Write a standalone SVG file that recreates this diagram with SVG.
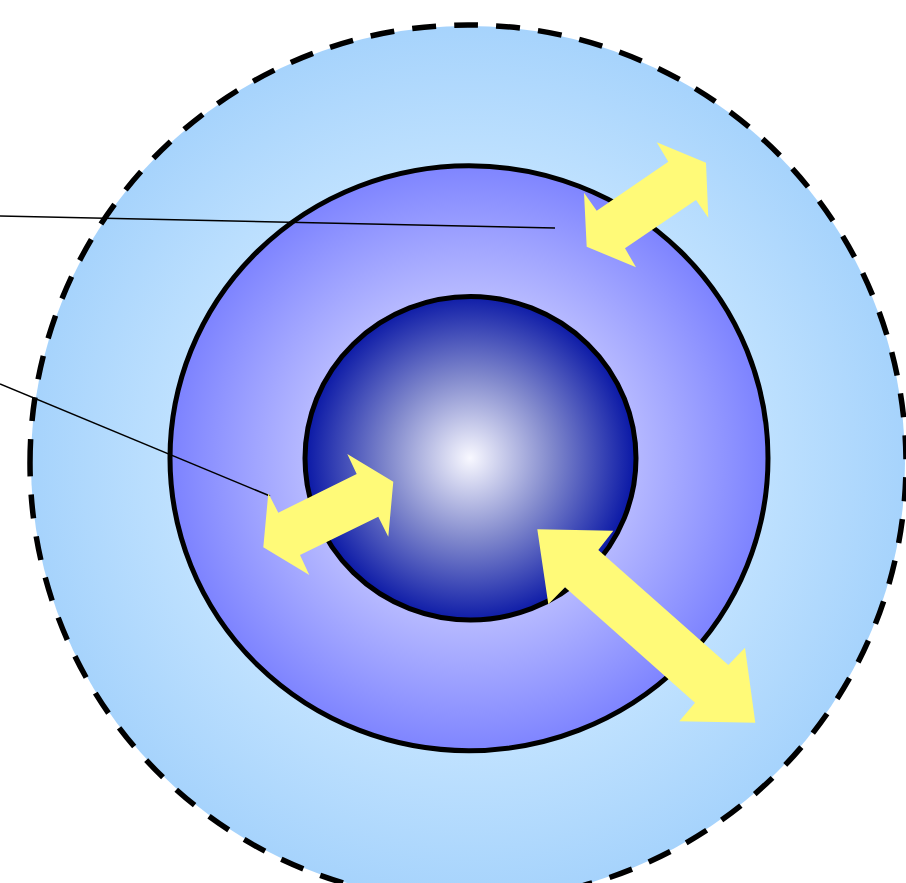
<svg xmlns="http://www.w3.org/2000/svg" width="906" height="883" viewBox="0 0 906 883">
<defs>
<radialGradient id="gOuter" cx="468" cy="462" r="438" gradientUnits="userSpaceOnUse">
<stop offset="0" stop-color="#d6eeff"/>
<stop offset="0.6" stop-color="#c4e4ff"/>
<stop offset="1" stop-color="#a6d3fc"/>
</radialGradient>
<radialGradient id="gMiddle" cx="469" cy="458" r="299" gradientUnits="userSpaceOnUse">
<stop offset="0" stop-color="#e6e6ff"/>
<stop offset="0.55" stop-color="#b6b9ff"/>
<stop offset="1" stop-color="#7c82ff"/>
</radialGradient>
<radialGradient id="gInner" cx="470" cy="458" r="165" gradientUnits="userSpaceOnUse">
<stop offset="0" stop-color="#f8f8ff"/>
<stop offset="0.5" stop-color="#8088cc"/>
<stop offset="1" stop-color="#0a18a6"/>
</radialGradient>
</defs>
<style>
.ring{stroke:#000;stroke-width:5}
.dash{fill:none;stroke:#000;stroke-width:5.5;stroke-dasharray:24 18.12}
.arrow{fill:#fffa78;stroke:none}
.leader{stroke:#000;stroke-width:1.5;fill:none}
</style>
<rect width="906" height="883" fill="#fff"/>
<g id="outer">
<circle cx="468" cy="463" r="437" fill="url(#gOuter)"/>
<path class="dash" d="M 30,463 A 438 438 0 1 1 906,463 A 438 438 0 1 1 30,463 Z"/>
</g>
<g id="middle"><ellipse cx="469" cy="458.2" rx="299" ry="292.5" fill="url(#gMiddle)" class="ring"/></g>
<g id="inner"><ellipse cx="470.5" cy="458.3" rx="165.5" ry="161.7" fill="url(#gInner)" class="ring"/></g>
<g id="connectors">
<line class="leader" x1="0" y1="216" x2="555" y2="228"/>
<line class="leader" x1="0" y1="384" x2="270" y2="496"/>
</g>
<g id="arrow-top">
<polygon class="arrow" points="656.7,142.3 706,162.7 708.3,217.7 696,200 625,248.3 636,267.3 586.7,246.7 584,192.7 596.7,210.7 668.3,161.7"/>
</g>
<g id="arrow-left">
<polygon class="arrow" points="347.3,454 393.3,481.7 388.3,536.7 378.3,516.7 300,555 309.3,575 263.3,547.3 268.3,493.3 278.3,512.7 356.7,474"/>
</g>
<g id="arrow-bottom">
<polygon class="arrow" points="537.3,529.3 613.3,530.7 598.3,550 728.3,665 745,647.7 755.3,722.7 679.3,721.3 695,702.7 565,587.3 548.3,604.3"/>
</g>
</svg>
